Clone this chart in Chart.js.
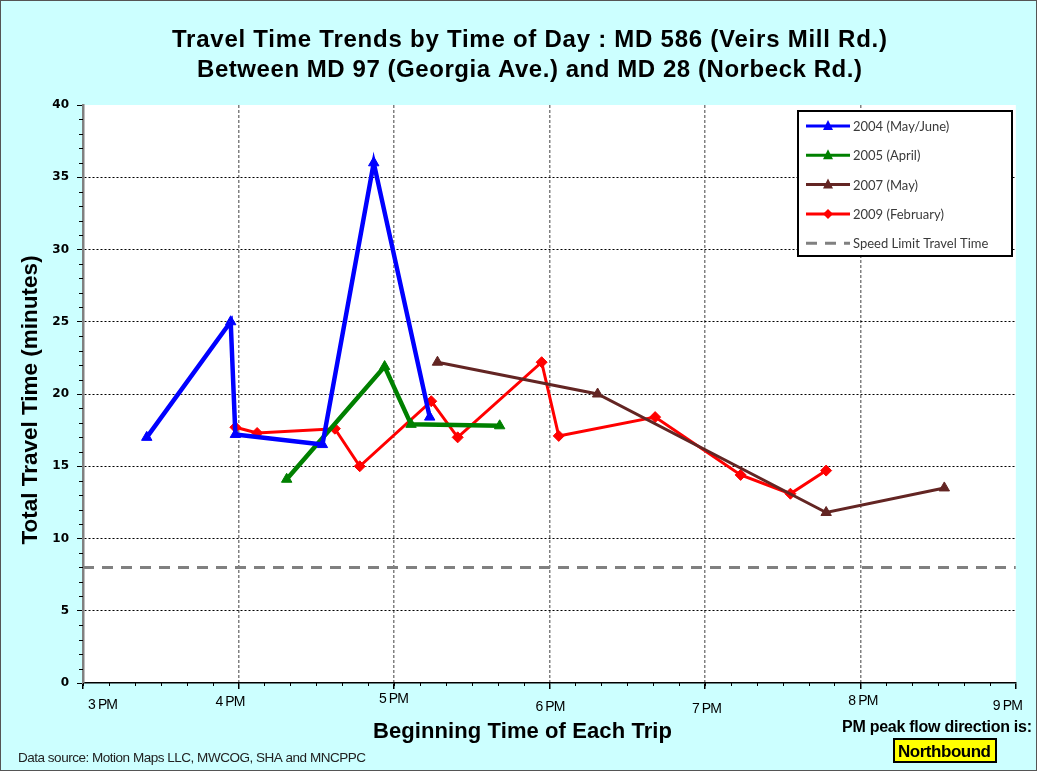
<!DOCTYPE html>
<html>
<head>
<meta charset="utf-8">
<script src="https://cdn.jsdelivr.net/npm/chart.js@4.4.1/dist/chart.umd.min.js"></script>
<style>
  html, body { margin: 0; padding: 0; background: #ccffff; }
  #wrap { position: relative; width: 1037px; height: 771px; }
</style>
</head>
<body>
<div id="wrap"><canvas id="myChart" width="1037" height="771"></canvas></div>
<script>
'use strict';

// hours of day (15 = 3 PM) and travel time in minutes
var times2004 = [15.41, 15.95, 15.98, 16.54, 16.87, 17.23];
var values2004 = [17.0, 25.0, 17.2, 16.5, 36.0, 18.4];

var times2005 = [16.31, 16.94, 17.11, 17.68];
var values2005 = [14.1, 21.9, 17.9, 17.8];

var times2007 = [17.28, 18.31, 19.78, 20.54];
var values2007 = [22.2, 20.0, 11.8, 13.5];

var times2009 = [15.98, 16.12, 16.62, 16.78, 17.24, 17.41, 17.95, 18.06, 18.68, 19.23, 19.55, 19.78];
var values2009 = [17.7, 17.3, 17.6, 15.0, 19.5, 17.0, 22.2, 17.1, 18.4, 14.4, 13.1, 14.7];

var speedLimitTimes = [15, 21];
var speedLimitValues = [8, 8];

var seriesLabels = ['2004 (May/June)', '2005 (April)', '2007 (May)', '2009 (February)', 'Speed Limit Travel Time'];
var hourTicks = [15, 16, 17, 18, 19, 20, 21];
var hourLabels = ['3 PM', '4 PM', '5 PM', '6 PM', '7 PM', '8 PM', '9 PM'];

// small shifts of the hour labels, as in the original picture
var labelNudgeX = [20, -8, 0, 1, 2, 3, -8];
var labelNudgeY = [1, -2, -5, 3, 5, -3, 2];

function pairs(xs, ys) {
  var out = [];
  for (var i = 0; i < xs.length; i++) out.push({x: xs[i], y: ys[i]});
  return out;
}

// draw text centred on cx, spread or squeezed to a given width
function fitText(c, text, cx, y, font, width) {
  c.save();
  c.font = font;
  c.textAlign = 'left';
  c.textBaseline = 'alphabetic';
  var w = c.measureText(text).width;
  if ('letterSpacing' in c) {
    c.letterSpacing = ((width - w) / Math.max(1, text.length - 1)) + 'px';
    c.fillText(text, cx - width / 2, y);
  } else {
    c.translate(cx - width / 2, y);
    c.scale(width / w, 1);
    c.fillText(text, 0, 0);
  }
  c.restore();
}

var ctx = document.getElementById('myChart');

var data = {
  datasets: [{
    label: seriesLabels[0], data: pairs(times2004, values2004),
    borderColor: '#0000ff', backgroundColor: '#0000ff', borderWidth: 4.5,
    pointStyle: 'triangle', pointRadius: 6, pointBorderWidth: 1
  }, {
    label: seriesLabels[1], data: pairs(times2005, values2005),
    borderColor: '#008000', backgroundColor: '#008000', borderWidth: 4.5,
    pointStyle: 'triangle', pointRadius: 6, pointBorderWidth: 1
  }, {
    label: seriesLabels[2], data: pairs(times2007, values2007),
    borderColor: '#632523', backgroundColor: '#632523', borderWidth: 3,
    pointStyle: 'triangle', pointRadius: 6, pointBorderWidth: 1
  }, {
    label: seriesLabels[3], data: pairs(times2009, values2009),
    borderColor: '#ff0000', backgroundColor: '#ff0000', borderWidth: 3,
    pointStyle: 'rectRot', pointRadius: 5.5, pointBorderWidth: 1
  }, {
    label: seriesLabels[4], data: pairs(speedLimitTimes, speedLimitValues),
    borderColor: '#808080', backgroundColor: '#808080', borderWidth: 3,
    borderDash: [11, 8], pointRadius: 0
  }]
};

// backgrounds, titles, legend, hour labels and minor ticks
var decor = {
  id: 'decor',
  beforeDraw: function(chart) {
    var c = chart.ctx, a = chart.chartArea;
    c.save();
    c.fillStyle = '#ccffff';
    c.fillRect(0, 0, chart.width, chart.height);
    c.strokeStyle = '#555';
    c.lineWidth = 1;
    c.strokeRect(0.5, 0.5, chart.width - 1, chart.height - 1);
    c.fillStyle = '#ffffff';
    c.fillRect(a.left, a.top, a.right - a.left, a.bottom - a.top);
    c.restore();
  },
  afterDraw: function(chart) {
    var c = chart.ctx, a = chart.chartArea;
    var xs = chart.scales.x, ys = chart.scales.y;
    var fam = '"Liberation Sans", Arial, sans-serif';
    c.save();

    // minor ticks
    c.strokeStyle = '#000';
    c.lineWidth = 1;
    c.beginPath();
    for (var m = 15; m < 21; m += 1 / 6) {
      var px = Math.round(xs.getPixelForValue(m)) + 0.5;
      c.moveTo(px, a.bottom); c.lineTo(px, a.bottom + 3);
    }
    for (var v = 0; v < 40; v++) {
      if (v % 5 === 0) continue;
      var py = Math.round(ys.getPixelForValue(v)) + 0.5;
      c.moveTo(a.left, py); c.lineTo(a.left - 4, py);
    }
    c.stroke();

    // hour labels
    c.fillStyle = '#000';
    for (var h = 0; h < hourTicks.length; h++) {
      fitText(c, hourLabels[h], xs.getPixelForValue(hourTicks[h]) + labelNudgeX[h],
        708 + labelNudgeY[h], '14px ' + fam, 30);
    }

    // titles
    fitText(c, 'Travel Time Trends by Time of Day : MD 586 (Veirs Mill Rd.)', 529.5, 47, 'bold 24px ' + fam, 715);
    fitText(c, 'Between MD 97 (Georgia Ave.) and MD 28 (Norbeck Rd.)', 529.5, 77, 'bold 24px ' + fam, 665);
    fitText(c, 'Beginning Time of Each Trip', 522.5, 738, 'bold 22px ' + fam, 299);

    c.save();
    c.translate(31, 400);
    c.rotate(-Math.PI / 2);
    c.font = 'bold 22.5px ' + fam;
    c.textAlign = 'center';
    c.textBaseline = 'middle';
    c.fillText('Total Travel Time (minutes)', 0, 0);
    c.restore();

    c.fillStyle = '#222';
    fitText(c, 'Data source: Motion Maps LLC, MWCOG, SHA and MNCPPC', 192, 762, '13.5px ' + fam, 348);

    c.fillStyle = '#000';
    fitText(c, 'PM peak flow direction is:', 937, 732, 'bold 16px ' + fam, 190);
    c.fillStyle = '#ffff00';
    c.fillRect(894, 739, 102, 23);
    c.strokeStyle = '#000';
    c.lineWidth = 2;
    c.strokeRect(894, 739, 102, 23);
    c.fillStyle = '#000';
    fitText(c, 'Northbound', 944.5, 757, 'bold 17px ' + fam, 93);

    // legend box
    c.fillStyle = '#ffffff';
    c.fillRect(798, 111, 214, 145);
    c.lineWidth = 2;
    c.strokeStyle = '#000';
    c.strokeRect(798, 111, 214, 145);
    var ds = chart.data.datasets;
    c.textBaseline = 'middle';
    for (var i = 0; i < ds.length; i++) {
      var y = 126 + i * 29.3;
      c.strokeStyle = ds[i].borderColor;
      c.lineWidth = 3;
      c.setLineDash(ds[i].borderDash || []);
      c.beginPath();
      c.moveTo(806, y); c.lineTo(850, y);
      c.stroke();
      c.setLineDash([]);
      c.fillStyle = ds[i].backgroundColor;
      if (ds[i].pointRadius > 0) {
        c.beginPath();
        if (ds[i].pointStyle === 'rectRot') {
          c.moveTo(828, y - 5); c.lineTo(833, y); c.lineTo(828, y + 5); c.lineTo(823, y);
        } else {
          c.moveTo(828, y - 6); c.lineTo(833, y + 4); c.lineTo(823, y + 4);
        }
        c.closePath();
        c.fill();
      }
      c.fillStyle = '#3a3a3a';
      c.textAlign = 'left';
      c.font = '13px Lato, sans-serif';
      c.fillText(ds[i].label, 853, y + 1);
    }
    c.restore();
  }
};

var myChart = new Chart(ctx, {
  type: 'line',
  data: data,
  plugins: [decor],
  options: {
    responsive: false,
    animation: false,
    layout: { padding: { top: 105, right: 19, left: 0, bottom: 0 } },
    plugins: { legend: { display: false }, tooltip: { enabled: false } },
    elements: { line: { tension: 0 } },
    scales: {
      x: {
        type: 'linear', min: 15, max: 21,
        afterFit: function(s) { s.height = 88; },
        afterBuildTicks: function(s) {
          s.ticks = hourTicks.map(function(h) { return {value: h}; });
        },
        ticks: {
          color: 'rgba(0,0,0,0)', padding: 6,
          font: { family: '"Liberation Sans", sans-serif', size: 13 },
          callback: function(v) { return hourLabels[hourTicks.indexOf(v)]; }
        },
        grid: {
          color: function(c) { return (c.tick && (c.tick.value === 15 || c.tick.value === 21)) ? 'rgba(0,0,0,0)' : '#808080'; },
          lineWidth: 1.5, drawTicks: true, tickLength: 6, tickColor: '#000', tickBorderDash: []
        },
        border: { display: true, color: '#000', width: 1.5, dash: [3, 2] }
      },
      y: {
        min: 0, max: 40,
        afterFit: function(s) { s.width = 83; },
        ticks: {
          stepSize: 5, color: '#000', padding: 8,
          font: { family: '"DejaVu Sans", sans-serif', size: 12, weight: 'bold' }
        },
        grid: {
          color: function(c) { return (c.tick && (c.tick.value === 0 || c.tick.value === 40)) ? 'rgba(0,0,0,0)' : '#000'; },
          lineWidth: 1, tickLength: 6, tickColor: '#000', tickBorderDash: []
        },
        border: { display: true, color: '#808080', width: 2.5, dash: [2, 2] }
      }
    }
  }
});
</script>
</body>
</html>
